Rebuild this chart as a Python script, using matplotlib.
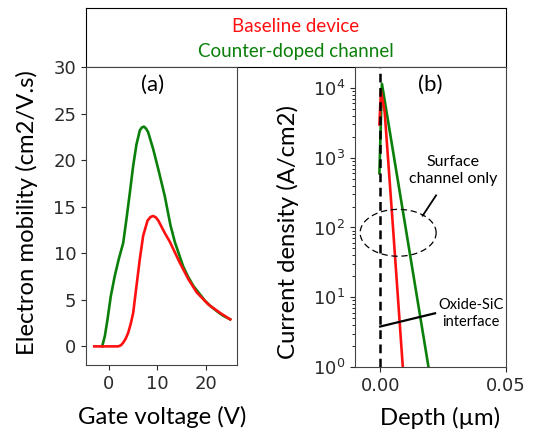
import numpy as np
import matplotlib
matplotlib.use("Agg")
import matplotlib.pyplot as plt

# (a) electron mobility vs gate voltage
vg_base = [-3.0, 0.0, 1.93, 2.5, 2.96, 3.5, 3.99, 4.5, 5.02, 5.7, 6.39, 7.08,
           7.97, 8.6, 9.13, 9.7, 10.2, 11.5, 12.6, 14.6, 16.4, 18.1, 20.5,
           22.9, 25.0]
mu_base = [0.0, 0.0, 0.0, 0.12, 0.4, 0.85, 1.47, 2.4, 3.6, 6.5, 9.4, 11.9,
           13.5, 13.9, 14.0, 13.85, 13.5, 12.2, 11.2, 9.0, 7.2, 5.8, 4.5,
           3.6, 2.9]
vg_cd = [-1.37, -0.82, -0.27, 0.41, 1.24, 2.06, 2.96, 3.64, 4.33, 5.02, 5.7,
         6.39, 6.8, 7.22, 7.65, 8.1, 9.13, 10.2, 11.5, 12.7, 13.6, 15.3,
         16.3, 17.4, 19.8, 21.0, 22.2, 23.5, 25.0]
mu_cd = [0.0, 1.1, 2.9, 5.4, 7.6, 9.4, 11.1, 13.7, 16.5, 19.4, 21.7, 23.2,
         23.5, 23.6, 23.4, 23.0, 21.2, 19.0, 16.2, 13.0, 11.2, 8.6, 7.5,
         6.5, 4.9, 4.3, 3.8, 3.3, 2.9]

# (b) current density vs depth
d_base = [-0.0003, 0.0003, 0.0012, 0.0018, 0.0051, 0.009]
j_base = [3e3, 9e3, 6e3, 4.5e3, 1e2, 1.0]
d_cd = [-0.0003, 0.0007, 0.0101, 0.0192]
j_cd = [6e2, 1.15e4, 1e2, 1.0]

red = "#ff1010"
green = "#0a800a"
label_font = "Lato"
label_size = 17.2

fig = plt.figure(figsize=(5.36, 4.37), dpi=100)
W, H = 536, 437

def frac(x0, y0, x1, y1):
    return [x0 / W, 1 - y1 / H, (x1 - x0) / W, (y1 - y0) / H]

# legend box on top
axl = fig.add_axes(frac(86, 8, 506, 67))
axl.set_xticks([])
axl.set_yticks([])
axl.text(0.5, 0.68, "Baseline device", color=red, ha="center", va="center",
         fontsize=13.5, family=label_font, transform=axl.transAxes)
axl.text(0.5, 0.27, "Counter-doped channel", color=green, ha="center",
         va="center", fontsize=13.5, family=label_font, transform=axl.transAxes)

tick_col = "#2a2a2a"

# panel (a)
ax1 = fig.add_axes(frac(86, 67, 237, 365))
ax1.plot(vg_cd, mu_cd, color=green, lw=1.9)
ax1.plot(vg_base, mu_base, color=red, lw=1.9)
ax1.set_xlim(-4.7, 26.4)
ax1.set_ylim(-2, 30)
ax1.set_xticks([0, 10, 20])
ax1.set_yticks([0, 5, 10, 15, 20, 25, 30])
ax1.set_ylabel("Electron mobility (cm2/V.s)", fontsize=label_size,
               family=label_font, va="center", ha="center")
ax1.yaxis.set_label_coords(-0.39, 0.51)
ax1.set_xlabel("Gate voltage (V)", fontsize=label_size, family=label_font,
               va="center", ha="center")
ax1.xaxis.set_label_coords(0.503, -0.174)
ax1.text(0.44, 0.94, "(a)", transform=ax1.transAxes, ha="center",
         va="center", fontsize=16, family=label_font)

# panel (b)
ax2 = fig.add_axes(frac(355, 67, 506, 367))
ax2.set_yscale("log")
ax2.plot(d_cd, j_cd, color=green, lw=1.9)
ax2.plot(d_base, j_base, color=red, lw=1.9)
ax2.axvline(0, color="black", lw=1.8, ls=(0, (3.5, 2.2)))
ax2.set_xlim(-0.01, 0.05)
ax2.set_ylim(1, 2.0e4)
ax2.set_xticks([0, 0.05])
ax2.set_xticklabels(["0.00", "0.05"])
ax2.set_ylabel("Current density (A/cm2)", fontsize=label_size,
               family=label_font, va="center", ha="center")
ax2.yaxis.set_label_coords(-0.444, 0.45)
ax2.set_xlabel("Depth (\u00b5m)", fontsize=label_size, family=label_font,
               va="center", ha="center")
ax2.xaxis.set_label_coords(0.563, -0.17)
ax2.text(0.5, 0.94, "(b)", transform=ax2.transAxes, ha="center",
         va="center", fontsize=16, family=label_font)

# dashed ellipse around the surface channel region (round in screen space)
t = np.linspace(0, 2 * np.pi, 200)
ex = 0.00714 + 0.0151 * np.cos(t)
ey = 10 ** (1.924 + 0.336 * np.sin(t))
ax2.plot(ex, ey, color="black", lw=0.9, ls=(0, (5, 3)))
ax2.plot([0.0169, 0.0222], [10 ** 2.17, 10 ** 2.46], color="black", lw=1.3)
ax2.text(0.029, 650, "Surface\nchannel only", ha="center", va="center",
         fontsize=11.5, family=label_font, linespacing=1.25)
ax2.plot([0.0, 0.0218], [10 ** 0.58, 10 ** 0.77], color="black", lw=1.6)
ax2.text(0.0361, 5.8, "Oxide-SiC\ninterface", ha="center", va="center",
         fontsize=10.5, family=label_font, linespacing=1.25)

for ax in (ax1, ax2):
    ax.tick_params(labelsize=13, colors=tick_col, labelcolor=tick_col)
    for s in ax.spines.values():
        s.set_color("#444444")

fig.savefig("out.png", dpi=100)
